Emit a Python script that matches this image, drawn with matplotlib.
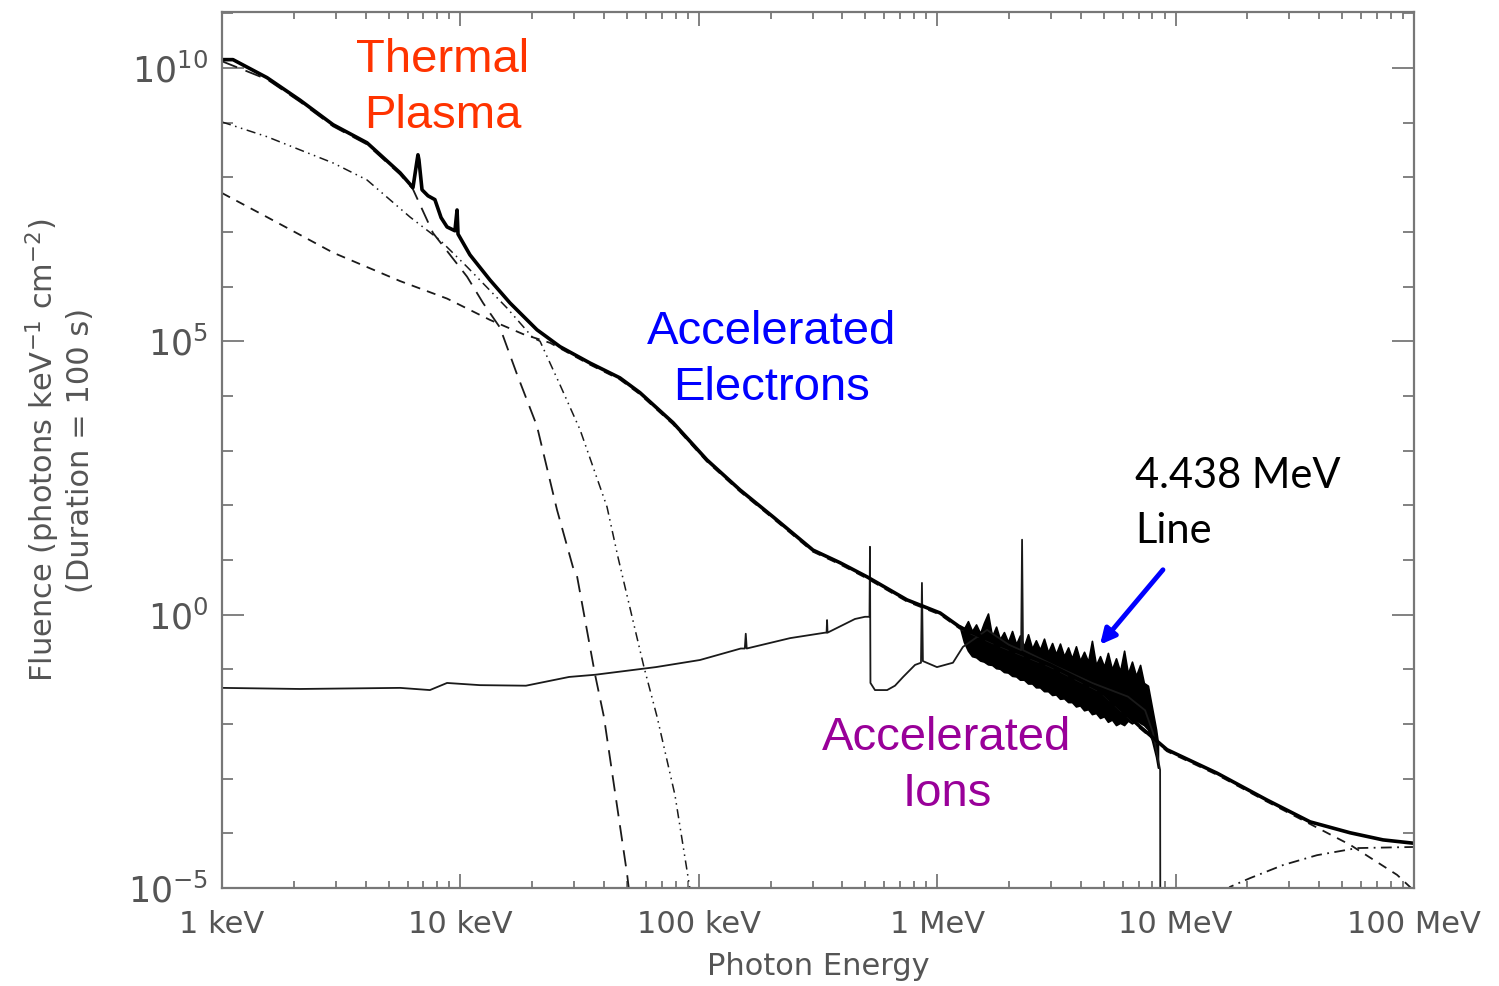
import matplotlib
matplotlib.use("Agg")
import matplotlib.pyplot as plt
import numpy as np
from matplotlib.ticker import FixedLocator, NullFormatter

# values are log10(E / keV) and log10(fluence)

# total spectrum (thick line)
total_logE = [0.000, 0.046, 0.189, 0.327, 0.466, 0.608, 0.747, 0.801, 0.818, 0.822, 0.826, 0.839,
              0.864, 0.893, 0.919, 0.944, 0.977, 0.986, 0.990, 1.040, 1.124, 1.208, 1.321, 1.418,
              1.544, 1.669, 1.753, 1.892, 2.034, 2.173, 2.311, 2.479, 2.592, 2.706, 2.873, 3.012,
              3.096, 3.263, 3.473, 3.683, 3.851, 3.964, 4.174, 4.383, 4.564, 4.732, 4.870, 4.996]
total_logF = [10.15, 10.15, 9.82, 9.41, 8.96, 8.63, 8.08, 7.81, 8.30, 8.41, 8.32, 7.77,
              7.66, 7.59, 7.26, 7.09, 7.02, 7.40, 6.96, 6.58, 6.12, 5.70, 5.21, 4.90,
              4.60, 4.33, 4.06, 3.51, 2.83, 2.28, 1.79, 1.18, 0.95, 0.69, 0.27, 0.03,
              -0.23, -0.55, -0.92, -1.38, -2.05, -2.47, -2.90, -3.39, -3.79, -3.99, -4.12, -4.18]

# cool thermal component (long dashes)
cool_logE = [0.000, 0.189, 0.327, 0.466, 0.608, 0.747, 0.801, 0.885, 1.028, 1.095, 1.166, 1.237,
             1.321, 1.405, 1.472, 1.489, 1.565, 1.602, 1.699, 1.720]
cool_logF = [10.12, 9.79, 9.38, 8.93, 8.60, 8.05, 7.78, 6.98, 6.18, 5.70, 5.25, 4.40,
             3.45, 1.92, 0.87, 0.71, -1.10, -1.87, -4.74, -5.50]

# hot thermal component (dash-dot-dot)
hot_logE = [0.000, 0.189, 0.327, 0.466, 0.608, 0.789, 0.914, 1.028, 1.195, 1.305, 1.334, 1.418,
            1.502, 1.615, 1.661, 1.770, 1.825, 1.900, 1.963, 2.000]
hot_logF = [9.01, 8.74, 8.50, 8.26, 7.95, 7.27, 6.85, 6.36, 5.61, 5.06, 5.00, 4.20,
            3.38, 1.97, 1.05, -0.96, -1.87, -3.30, -5.02, -6.00]

# non-thermal electron bremsstrahlung (short dashes)
brems_logE = [0.000, 0.189, 0.466, 0.747, 0.944, 1.124, 1.263, 1.376, 1.418, 1.544, 1.669, 1.753,
              1.892, 2.034, 2.173, 2.311, 2.479, 2.592, 2.706, 2.873, 3.012, 3.096, 3.263, 3.473,
              3.683, 3.851, 3.964, 4.174, 4.383, 4.551, 4.732, 4.929, 5.000]
brems_logF = [7.71, 7.27, 6.62, 6.10, 5.78, 5.39, 5.13, 4.97, 4.87, 4.57, 4.30, 4.03,
              3.48, 2.80, 2.25, 1.76, 1.15, 0.92, 0.66, 0.24, 0.00, -0.26, -0.58, -0.95,
              -1.41, -2.08, -2.50, -2.93, -3.42, -3.80, -4.21, -4.76, -5.05]

# pion-decay component (dash-dot)
pion_logE = [4.144, 4.228, 4.312, 4.451, 4.593, 4.761, 4.996]
pion_logF = [-5.40, -4.98, -4.82, -4.58, -4.40, -4.27, -4.25]

# accelerated-ion spectrum (thin line, with narrow lines)
ion_logE = [0.000, 0.327, 0.747, 0.872, 0.944, 1.082, 1.275, 1.456, 1.565, 1.820, 2.005, 2.176,
            2.193, 2.197, 2.201, 2.383, 2.530, 2.536, 2.538, 2.540, 2.655, 2.697, 2.716, 2.718,
            2.720, 2.739, 2.790, 2.823, 2.857, 2.907, 2.932, 2.936, 2.940, 2.999, 3.066, 3.108,
            3.167, 3.209, 3.300, 3.352, 3.356, 3.360, 3.500, 3.650, 3.800, 3.872, 3.905, 3.935,
            3.936]
ion_logF = [-1.34, -1.36, -1.34, -1.38, -1.25, -1.29, -1.30, -1.14, -1.10, -0.96, -0.83, -0.62,
            -0.62, -0.35, -0.62, -0.43, -0.33, -0.33, -0.10, -0.33, -0.08, -0.04, -0.04, 1.24,
            -1.25, -1.38, -1.38, -1.30, -1.14, -0.92, -0.88, 0.58, -0.85, -0.96, -0.88, -0.59,
            -0.41, -0.28, -0.55, -0.65, 1.37, -0.65, -0.95, -1.25, -1.50, -1.75, -2.16, -2.84,
            -6.00]

# nuclear de-excitation line forest (upper / lower envelope)
band_logE = [3.096, 3.112, 3.129, 3.146, 3.163, 3.180, 3.196, 3.213, 3.230, 3.247, 3.263, 3.280,
             3.297, 3.314, 3.331, 3.347, 3.364, 3.381, 3.398, 3.414, 3.431, 3.448, 3.465, 3.482,
             3.498, 3.515, 3.532, 3.549, 3.565, 3.582, 3.599, 3.616, 3.633, 3.649, 3.666, 3.683,
             3.700, 3.716, 3.733, 3.750, 3.767, 3.784, 3.800, 3.817, 3.834, 3.851, 3.867, 3.884,
             3.901, 3.918, 3.926]
band_hi = [-0.20, -0.26, -0.12, -0.30, -0.18, -0.34, -0.15, 0.02, -0.40, -0.22, -0.45, -0.32,
           -0.50, -0.30, -0.54, -0.38, -0.58, -0.36, -0.62, -0.47, -0.64, -0.44, -0.69, -0.52,
           -0.72, -0.53, -0.76, -0.60, -0.80, -0.58, -0.84, -0.68, -0.86, -0.48, -0.92, -0.76,
           -0.95, -0.70, -1.00, -0.80, -1.04, -0.66, -1.08, -0.86, -1.12, -0.92, -1.25, -1.30,
           -1.70, -2.10, -2.35]
band_lo = [-0.24, -0.50, -0.66, -0.76, -0.78, -0.84, -0.86, -0.91, -0.92, -0.98, -0.99, -1.05,
           -1.06, -1.12, -1.13, -1.19, -1.19, -1.26, -1.26, -1.33, -1.33, -1.40, -1.40, -1.47,
           -1.46, -1.54, -1.53, -1.60, -1.60, -1.68, -1.66, -1.75, -1.73, -1.82, -1.80, -1.89,
           -1.86, -1.96, -1.92, -2.02, -1.98, -2.02, -1.94, -1.99, -1.93, -1.98, -2.02, -2.10,
           -2.30, -2.60, -2.80]

tick_E = [1, 10, 100, 1e3, 1e4, 1e5]
tick_labels = ["1 keV", "10 keV", "100 keV", "1 MeV", "10 MeV", "100 MeV"]


def p(a):
    return 10 ** np.array(a)


grey = "#555555"
ink = "#1a1a1a"

fig = plt.figure(figsize=(14.99, 9.86), dpi=100)
ax = fig.add_axes([222 / 1499, 98 / 986, 1192 / 1499, 876 / 986])
ax.set_xscale("log")
ax.set_yscale("log")

ax.plot(p(cool_logE), p(cool_logF), color=ink, lw=1.3, ls=(0, (9, 5)))
ax.plot(p(hot_logE), p(hot_logF), color=ink, lw=1.1, ls=(0, (6, 3, 1, 3, 1, 3)))
ax.plot(p(brems_logE), p(brems_logF), color=ink, lw=1.3, ls=(0, (5, 4)))
ax.plot(p(pion_logE), p(pion_logF), color=ink, lw=1.3, ls=(0, (6, 3, 1, 3)))
ax.plot(p(ion_logE), p(ion_logF), color=ink, lw=1.3)
ax.plot(p(total_logE), p(total_logF), color="black", lw=2.6)
ax.fill_between(p(band_logE), p(band_lo), p(band_hi), color="black", lw=1.2, edgecolor="black")

ax.set_xlim(1, 1e5)
ax.set_ylim(1e-5, 1.05e11)

# ticks
ax.xaxis.set_major_locator(FixedLocator(tick_E))
ax.set_xticklabels(tick_labels)
ax.xaxis.set_minor_locator(FixedLocator([m * 10 ** d for d in range(0, 5) for m in range(2, 10)]))
ax.xaxis.set_minor_formatter(NullFormatter())
ax.yaxis.set_major_locator(FixedLocator([1e-5, 1e0, 1e5, 1e10]))
ax.set_yticklabels([r"$10^{-5}$", r"$10^{0}$", r"$10^{5}$", r"$10^{10}$"])
ax.yaxis.set_minor_locator(FixedLocator([10.0 ** d for d in range(-5, 12)]))
ax.yaxis.set_minor_formatter(NullFormatter())

ax.tick_params(which="both", direction="in", top=True, right=True, colors="#777777",
               labelcolor=grey, labelsize=22, width=1.3)
ax.tick_params(axis="x", which="major", length=10, pad=16)
ax.tick_params(axis="x", which="minor", length=5)
ax.tick_params(axis="y", which="major", length=16, pad=10, labelsize=25)
ax.tick_params(axis="y", which="minor", length=8)
for s in ax.spines.values():
    s.set_color("#777777")
    s.set_linewidth(1.6)

ax.set_xlabel("Photon Energy", fontsize=22, color=grey, labelpad=9)
ax.set_ylabel("Fluence (photons keV$^{-1}$ cm$^{-2}$)\n(Duration = 100 s)",
              fontsize=22, color=grey, labelpad=24, linespacing=1.15)

# annotations
sans = "Liberation Sans"
ax.text(8.45, 10 ** 9.63, "Thermal\nPlasma", color="#ff3300", fontsize=34, family=sans,
        ha="center", va="center", linespacing=1.37)
ax.text(201, 10 ** 4.66, "Accelerated\nElectrons", color="#0000ff", fontsize=34, family=sans,
        ha="center", va="center", linespacing=1.37)
ax.text(1099, 10 ** -2.77, "Accelerated\nIons", color="#990099", fontsize=34, family=sans,
        ha="center", va="center", linespacing=1.37)
ax.text(6760, 10 ** 2.03, "4.438 MeV\nLine", color="black", fontsize=30, family="Lato",
        ha="left", va="center", linespacing=1.55)
ax.annotate("", xy=(4820, 10 ** -0.55), xytext=(8850, 10 ** 0.82),
            arrowprops=dict(arrowstyle="-|>,head_length=0.9,head_width=0.45", color="#0000ff",
                            lw=3.5, shrinkA=0, shrinkB=0))

fig.savefig("out.png", dpi=100)
